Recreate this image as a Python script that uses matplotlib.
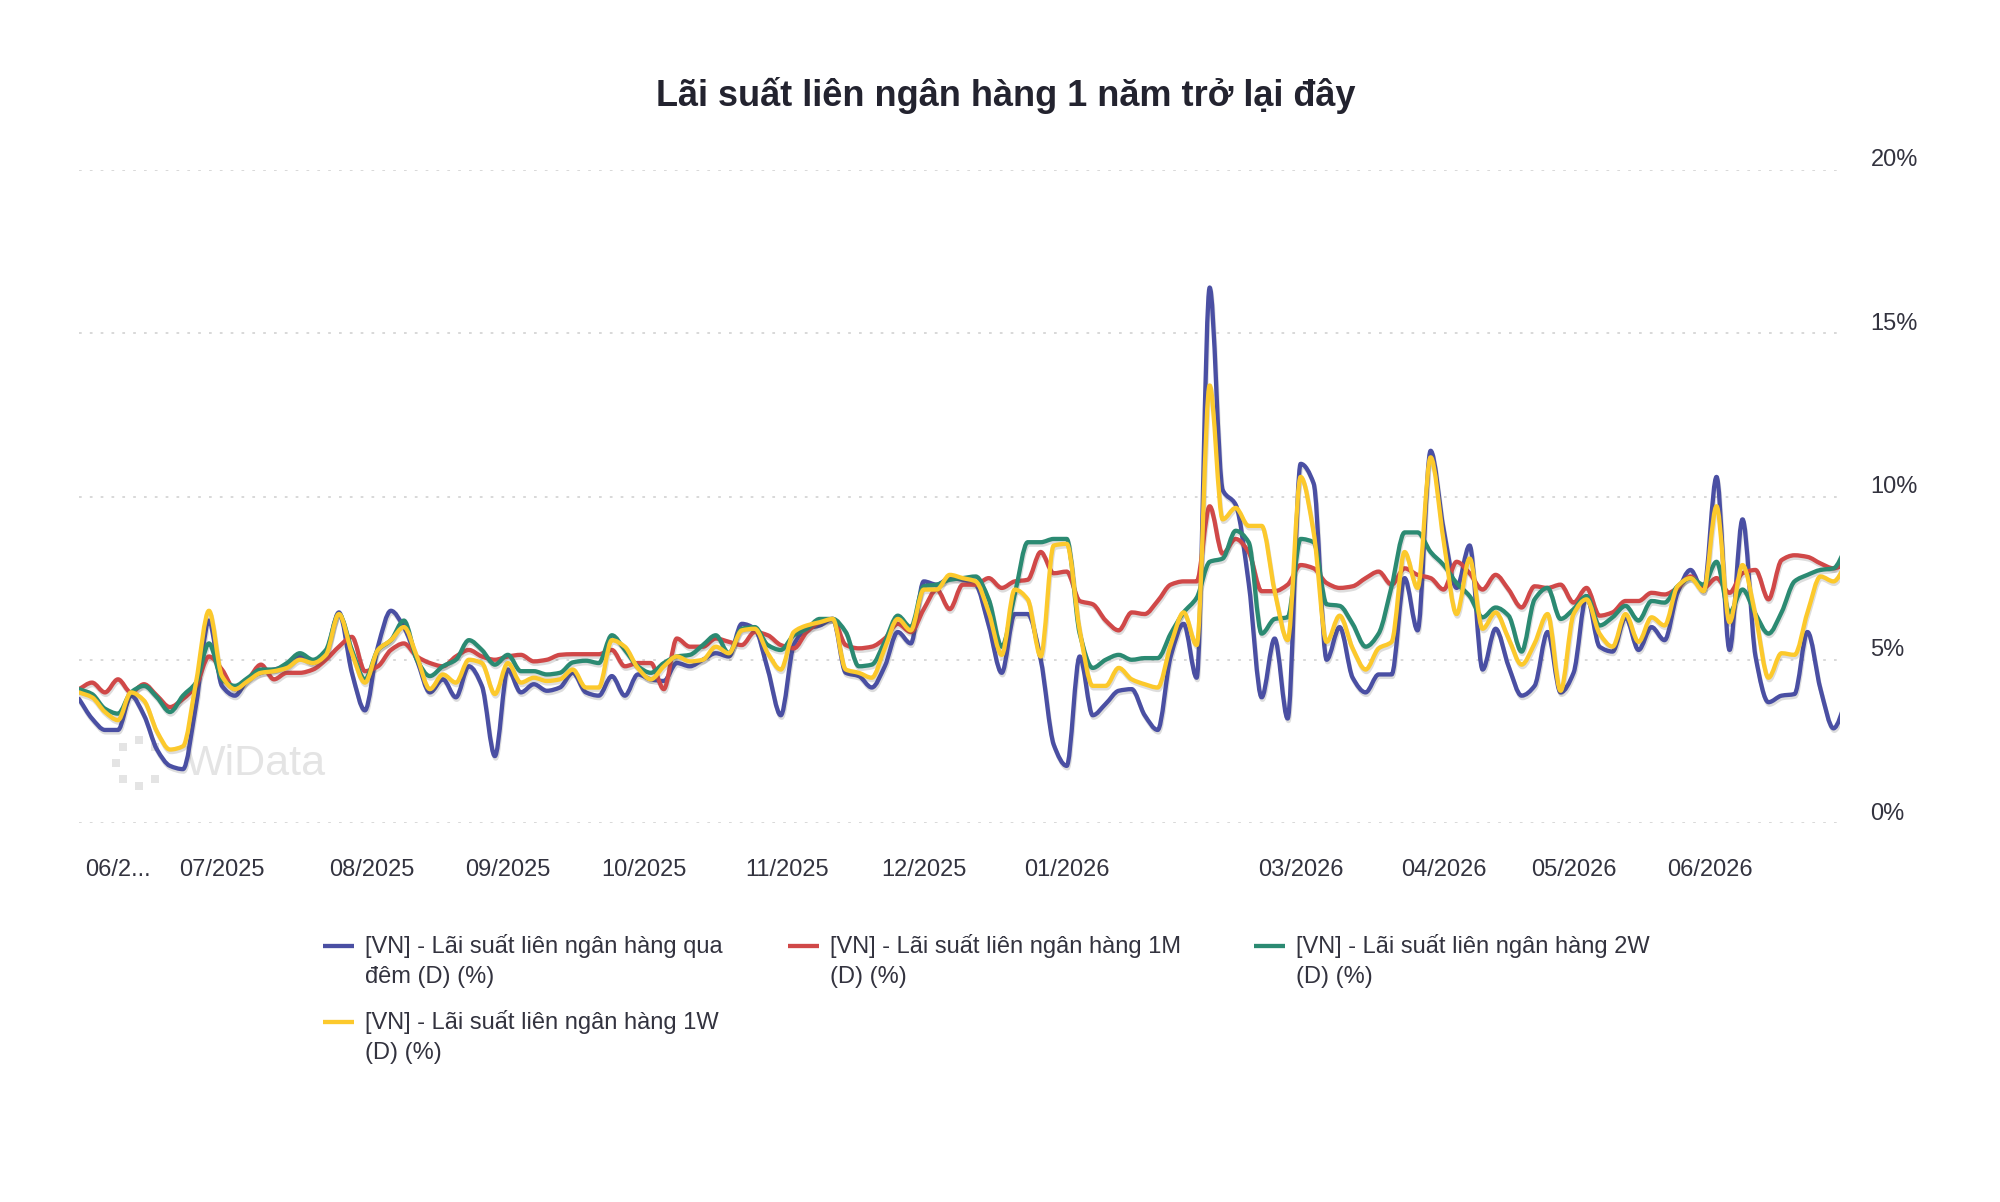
import numpy as np
import matplotlib
matplotlib.use("Agg")
import matplotlib.pyplot as plt
import matplotlib.patheffects as pe
from matplotlib.lines import Line2D
from matplotlib.path import Path
from matplotlib.patches import PathPatch
from matplotlib.transforms import ScaledTranslation

plt.rcParams['font.family'] = ['Liberation Sans', 'DejaVu Sans']

title = "Lãi suất liên ngân hàng 1 năm trở lại đây"

# month axis: trading days in each month, Jun 2025 -> Jun 2026
month_labels = ["06/2...", "07/2025", "08/2025", "09/2025", "10/2025", "11/2025", "12/2025",
                "01/2026", "", "03/2026", "04/2026", "05/2026", "06/2026"]  # 02/2026 hidden in original
month_days = [22, 23, 21, 21, 22, 21, 22, 22, 14, 22, 20, 21, 20]
step_days = 2  # one reading every 2 trading days

# interbank rates (%)
overnight = [3.8, 3.2, 2.85, 2.85, 3.9, 3.3, 2.25, 1.75, 1.65, 3.6,
             6.2, 4.2, 3.9, 4.4, 4.6, 4.7, 4.8, 5.1, 4.9, 5.2,
             6.45, 4.6, 3.45, 5.4, 6.5, 6.0, 5.0, 4.0, 4.4, 3.85,
             4.8, 4.2, 2.05, 4.7, 4.0, 4.25, 4.05, 4.15, 4.6, 4.0,
             3.9, 4.5, 3.9, 4.55, 4.4, 4.35, 4.9, 4.8, 5.0, 5.2,
             5.1, 6.1, 5.95, 4.7, 3.3, 5.45, 5.95, 6.05, 6.25, 4.6,
             4.5, 4.15, 4.8, 5.85, 5.5, 7.4, 7.3, 7.5, 7.45, 7.3,
             6.05, 4.6, 6.4, 6.4, 5.0, 2.4, 1.75, 5.1, 3.3, 3.65,
             4.05, 4.1, 3.3, 2.85, 5.1, 6.1, 4.45, 16.4, 10.2, 9.75,
             7.35, 3.85, 5.65, 3.2, 11.0, 10.4, 5.0, 6.0, 4.45, 4.0,
             4.55, 4.55, 7.5, 5.9, 11.4, 9.0, 7.2, 8.5, 4.7, 5.95,
             4.8, 3.9, 4.2, 5.85, 4.0, 4.6, 6.95, 5.4, 5.25, 6.3,
             5.3, 6.0, 5.6, 7.05, 7.75, 7.1, 10.6, 5.3, 9.3, 5.1,
             3.7, 3.9, 3.95, 5.85, 4.1, 2.9, 3.75]
rate_1m = [4.1, 4.3, 4.0, 4.4, 4.0, 4.25, 3.9, 3.55, 3.8, 4.2,
           5.1, 4.7, 4.1, 4.4, 4.85, 4.4, 4.6, 4.6, 4.7, 5.0,
           5.4, 5.7, 4.65, 4.8, 5.3, 5.5, 5.1, 4.9, 4.8, 5.1,
           5.3, 5.1, 5.0, 5.1, 5.15, 4.95, 5.0, 5.15, 5.17, 5.17,
           5.17, 5.3, 4.8, 4.9, 4.9, 4.1, 5.65, 5.4, 5.4, 5.65,
           5.55, 5.45, 5.85, 5.75, 5.45, 5.35, 5.85, 6.15, 6.25, 5.45,
           5.35, 5.4, 5.65, 6.1, 5.85, 6.55, 7.15, 6.55, 7.3, 7.3,
           7.5, 7.2, 7.4, 7.45, 8.3, 7.65, 7.7, 6.8, 6.7, 6.2,
           5.9, 6.45, 6.4, 6.8, 7.3, 7.4, 7.4, 9.7, 8.25, 8.7,
           8.3, 7.1, 7.1, 7.3, 7.9, 7.8, 7.35, 7.2, 7.25, 7.5,
           7.7, 7.3, 7.8, 7.6, 7.5, 7.15, 8.0, 7.65, 7.15, 7.6,
           7.15, 6.6, 7.25, 7.2, 7.3, 6.75, 7.2, 6.35, 6.45, 6.8,
           6.8, 7.05, 7.0, 7.2, 7.55, 7.2, 7.5, 7.05, 7.65, 7.75,
           6.85, 8.05, 8.2, 8.15, 7.95, 7.8, 7.95]
rate_2w = [4.1, 3.95, 3.5, 3.35, 4.0, 4.2, 3.85, 3.4, 3.9, 4.3,
           5.5, 4.4, 4.2, 4.45, 4.7, 4.7, 4.9, 5.2, 5.0, 5.3,
           6.4, 5.3, 4.4, 5.3, 5.6, 6.2, 5.0, 4.5, 4.8, 5.0,
           5.6, 5.3, 4.85, 5.15, 4.65, 4.65, 4.55, 4.6, 4.92, 4.97,
           4.9, 5.75, 5.3, 4.8, 4.6, 4.9, 5.1, 5.15, 5.45, 5.75,
           5.2, 5.95, 6.0, 5.45, 5.3, 5.75, 5.95, 6.25, 6.25, 5.85,
           4.8, 4.85, 5.55, 6.35, 6.0, 7.25, 7.3, 7.45, 7.5, 7.55,
           6.85, 5.4, 7.0, 8.6, 8.6, 8.7, 8.7, 5.8, 4.75, 5.0,
           5.15, 5.0, 5.05, 5.05, 5.8, 6.45, 6.9, 8.0, 8.1, 8.95,
           8.6, 5.8, 6.25, 6.3, 8.7, 8.6, 6.7, 6.65, 6.1, 5.4,
           5.8, 7.25, 8.9, 8.9, 8.3, 7.9, 7.35, 6.95, 6.3, 6.6,
           6.35, 5.25, 6.85, 7.2, 6.25, 6.55, 6.95, 6.05, 6.3, 6.65,
           6.2, 6.8, 6.75, 7.25, 7.5, 7.3, 8.0, 6.45, 7.15, 6.4,
           5.8, 6.45, 7.4, 7.6, 7.75, 7.8, 8.45]
rate_1w = [4.0, 3.85, 3.4, 3.15, 4.0, 3.75, 2.8, 2.25, 2.35, 4.3,
           6.5, 4.5, 4.1, 4.35, 4.6, 4.65, 4.75, 5.0, 4.9, 5.15,
           6.4, 5.2, 4.3, 5.3, 5.6, 6.0, 5.1, 4.1, 4.55, 4.3,
           5.0, 4.9, 3.95, 4.9, 4.3, 4.45, 4.35, 4.4, 4.7, 4.15,
           4.15, 5.6, 5.4, 4.75, 4.4, 4.8, 5.1, 4.95, 5.0, 5.4,
           5.2, 5.9, 5.95, 5.2, 4.7, 5.85, 6.05, 6.15, 6.25, 4.7,
           4.6, 4.45, 5.35, 6.25, 5.9, 7.15, 7.15, 7.6, 7.5, 7.4,
           6.45, 5.15, 7.15, 6.85, 5.1, 8.5, 8.55, 5.9, 4.2, 4.2,
           4.75, 4.4, 4.25, 4.15, 5.45, 6.45, 5.45, 13.4, 9.3, 9.65,
           9.1, 9.1, 7.1, 5.6, 10.6, 8.9, 5.55, 6.35, 5.35, 4.7,
           5.35, 5.55, 8.3, 7.2, 11.2, 8.65, 6.4, 8.1, 5.95, 6.45,
           5.65, 4.85, 5.5, 6.4, 4.05, 6.4, 6.85, 5.8, 5.4, 6.4,
           5.55, 6.3, 6.05, 7.25, 7.5, 7.1, 9.7, 6.15, 7.9, 6.35,
           4.45, 5.2, 5.15, 6.45, 7.55, 7.4, 7.95]

series_names = ["[VN] - Lãi suất liên ngân hàng qua\nđêm (D) (%)",
                "[VN] - Lãi suất liên ngân hàng 1M\n(D) (%)",
                "[VN] - Lãi suất liên ngân hàng 2W\n(D) (%)",
                "[VN] - Lãi suất liên ngân hàng 1W\n(D) (%)"]
series_colors = ["#4a4fa3", "#d04848", "#2b8a72", "#fcc92c"]
y_ticks = [0, 5, 10, 15, 20]


def smooth_path(xs, ys):
    # monotone cubic through the readings, as bezier segments (the original draws smoothed lines)
    xs = np.asarray(xs, float)
    ys = np.asarray(ys, float)
    h = np.diff(xs)
    d = np.diff(ys) / h
    m = np.zeros_like(ys)
    m[0], m[-1] = d[0], d[-1]
    for i in range(1, len(ys) - 1):
        if d[i - 1] * d[i] > 0:
            m[i] = 2 / (1 / d[i - 1] + 1 / d[i])
    verts = [(xs[0], ys[0])]
    codes = [Path.MOVETO]
    for i in range(len(xs) - 1):
        verts += [(xs[i] + h[i] / 3, ys[i] + m[i] * h[i] / 3),
                  (xs[i + 1] - h[i] / 3, ys[i + 1] - m[i + 1] * h[i] / 3),
                  (xs[i + 1], ys[i + 1])]
        codes += [Path.CURVE4] * 3
    return Path(verts, codes)


W, H = 2000, 1202
txt = "#33333f"
fig = plt.figure(figsize=(W / 100, H / 100), dpi=100)
fig.patch.set_facecolor("white")
ax = fig.add_axes([79 / W, 1 - 823 / H, (1840 - 79) / W, (823 - 170) / H])

x = np.arange(len(overnight)) * step_days
shadow = [pe.SimpleLineShadow(offset=(0.6, -1.8), shadow_color="#444", alpha=0.18), pe.Normal()]
for vals, col in zip([overnight, rate_1m, rate_2w, rate_1w], series_colors):
    ax.add_patch(PathPatch(smooth_path(x, vals), fill=False, edgecolor=col, lw=3.1,
                           joinstyle="round", capstyle="round", zorder=3, path_effects=shadow))

ax.set_xlim(0, sum(month_days))
ax.set_ylim(0, 20)
for s in ax.spines.values():
    s.set_visible(False)

ax.yaxis.tick_right()
ax.set_yticks(y_ticks)
ax.set_yticklabels([f"{v}%" for v in y_ticks])
ax.grid(axis="y", color="#d6d6d6", lw=1.3, linestyle=(0, (1.5, 4.5)))
ax.grid(axis="x", visible=False)
ax.tick_params(length=0, labelsize=17, colors=txt)
ax.tick_params(axis="y", pad=22)
ax.tick_params(axis="x", pad=26)
for lab in ax.get_yticklabels():
    lab.set_transform(lab.get_transform() + ScaledTranslation(0, 0.12, fig.dpi_scale_trans))

tick_pos = np.concatenate([[0], np.cumsum(month_days)[:-1]])
ax.set_xticks(tick_pos)
ax.set_xticklabels(month_labels)
first = ax.get_xticklabels()[0]
first.set_ha("left")
first.set_transform(first.get_transform() + ScaledTranslation(0.06, 0, fig.dpi_scale_trans))

# watermark
ax.text(0.060, 0.090, "WiData", transform=ax.transAxes, fontsize=31, color="#e4e4e4",
        ha="left", va="center", zorder=0)
ang = np.deg2rad(np.arange(45, 360, 45))
ax.scatter(0.034 + 23 / 1761 * np.cos(ang), 0.092 + 23 / 653 * np.sin(ang), s=40, marker="s",
           color="#e4e4e4", transform=ax.transAxes, zorder=0, linewidths=0)

fig.text(1006 / W, 1 - 96 / H, title, ha="center", va="center", fontsize=26,
         fontweight="bold", color="#23232f")

# legend, row by row like the original
col_x = [323, 788, 1254]
row_y = [946, 1022]
slots = [(0, 0), (0, 1), (0, 2), (1, 0)]
for name, col, (r, c) in zip(series_names, series_colors, slots):
    x0, y0 = col_x[c], row_y[r]
    fig.add_artist(Line2D([x0 / W, (x0 + 31) / W], [1 - y0 / H, 1 - y0 / H], color=col,
                          lw=3.1, solid_capstyle="butt"))
    for j, line in enumerate(name.split("\n")):
        fig.text((x0 + 42) / W, 1 - (y0 + 30.5 * j) / H, line, ha="left", va="center",
                 fontsize=17, color=txt)

fig.savefig("out.png", dpi=100)
